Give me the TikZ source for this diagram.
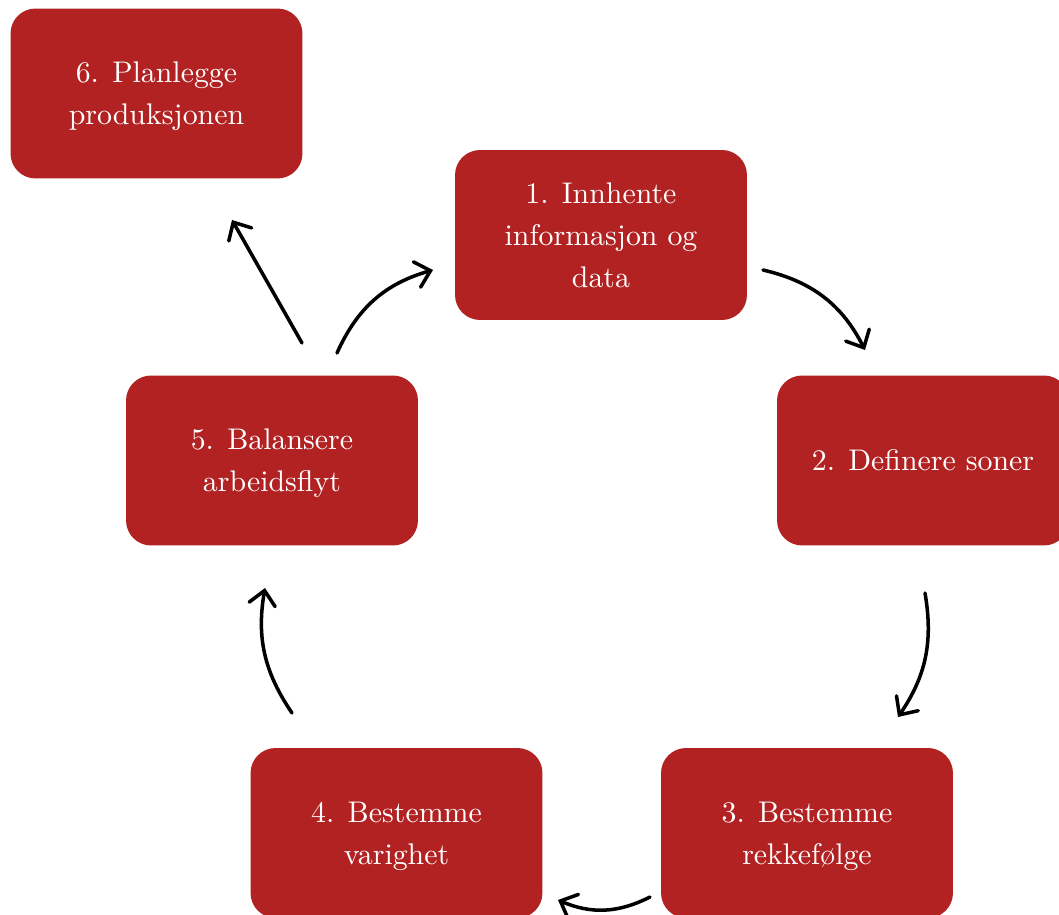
\documentclass[tikz,border=0pt]{standalone}
\usepackage{fontspec}
\usetikzlibrary{arrows.meta}
\newfontfamily\boxfont{lmroman10-regular.otf}
\definecolor{boxred}{HTML}{B22222}
% strut that gives two-line labels a little extra room above
\newcommand\toppad{\rule{0pt}{15pt}}
\begin{document}
\begin{tikzpicture}[x=0.02cm,y=0.02cm,
  stepbox/.style={fill=boxred, rounded corners=0.5cm, minimum width=5.84cm,
    minimum height=3.4cm, inner sep=0pt, align=center, text=white,
    font=\boxfont\fontsize{17}{24}\selectfont},
  flow/.style={line width=2pt, line cap=round,
    -{Straight Barb[length=8pt,width=15pt,line cap=round]}},
  ]
\useasboundingbox (0,0) rectangle (1059,914);
% process steps
\node[stepbox] (s6) at (156.5,820.5) {\toppad 6. Planlegge\\produksjonen};
\node[stepbox] (s1) at (601,679) {1. Innhente\\informasjon og\\data};
\node[stepbox] (s2) at (923,453.5) {2. Definere soner};
\node[stepbox] (s5) at (272,453.5) {\toppad 5. Balansere\\arbeidsflyt};
\node[stepbox] (s4) at (396.5,81) {\toppad 4. Bestemme\\varighet};
\node[stepbox] (s3) at (807,81) {\toppad 3. Bestemme\\rekkefølge};
% arrow end points
\coordinate (a1) at (763,644);  \coordinate (b1) at (865,564);
\coordinate (a2) at (925,321);  \coordinate (b2) at (898,197);
\coordinate (a3) at (650,17);   \coordinate (b3) at (558,14);
\coordinate (a4) at (292,201);  \coordinate (b4) at (265,326);
\coordinate (a5) at (337,561);  \coordinate (b5) at (433,644);
\coordinate (a6) at (302,571);  \coordinate (b6) at (232,694);
% cycle arrows
\draw[flow] (a1) to[bend left=25] (b1);
\draw[flow] (a2) to[bend left=22] (b2);
\draw[flow] (a3) to[bend left=25] (b3);
\draw[flow] (a4) to[bend left=22] (b4);
\draw[flow] (a5) to[bend left=25] (b5);
\draw[flow] (a6) -- (b6);
\end{tikzpicture}
\end{document}
